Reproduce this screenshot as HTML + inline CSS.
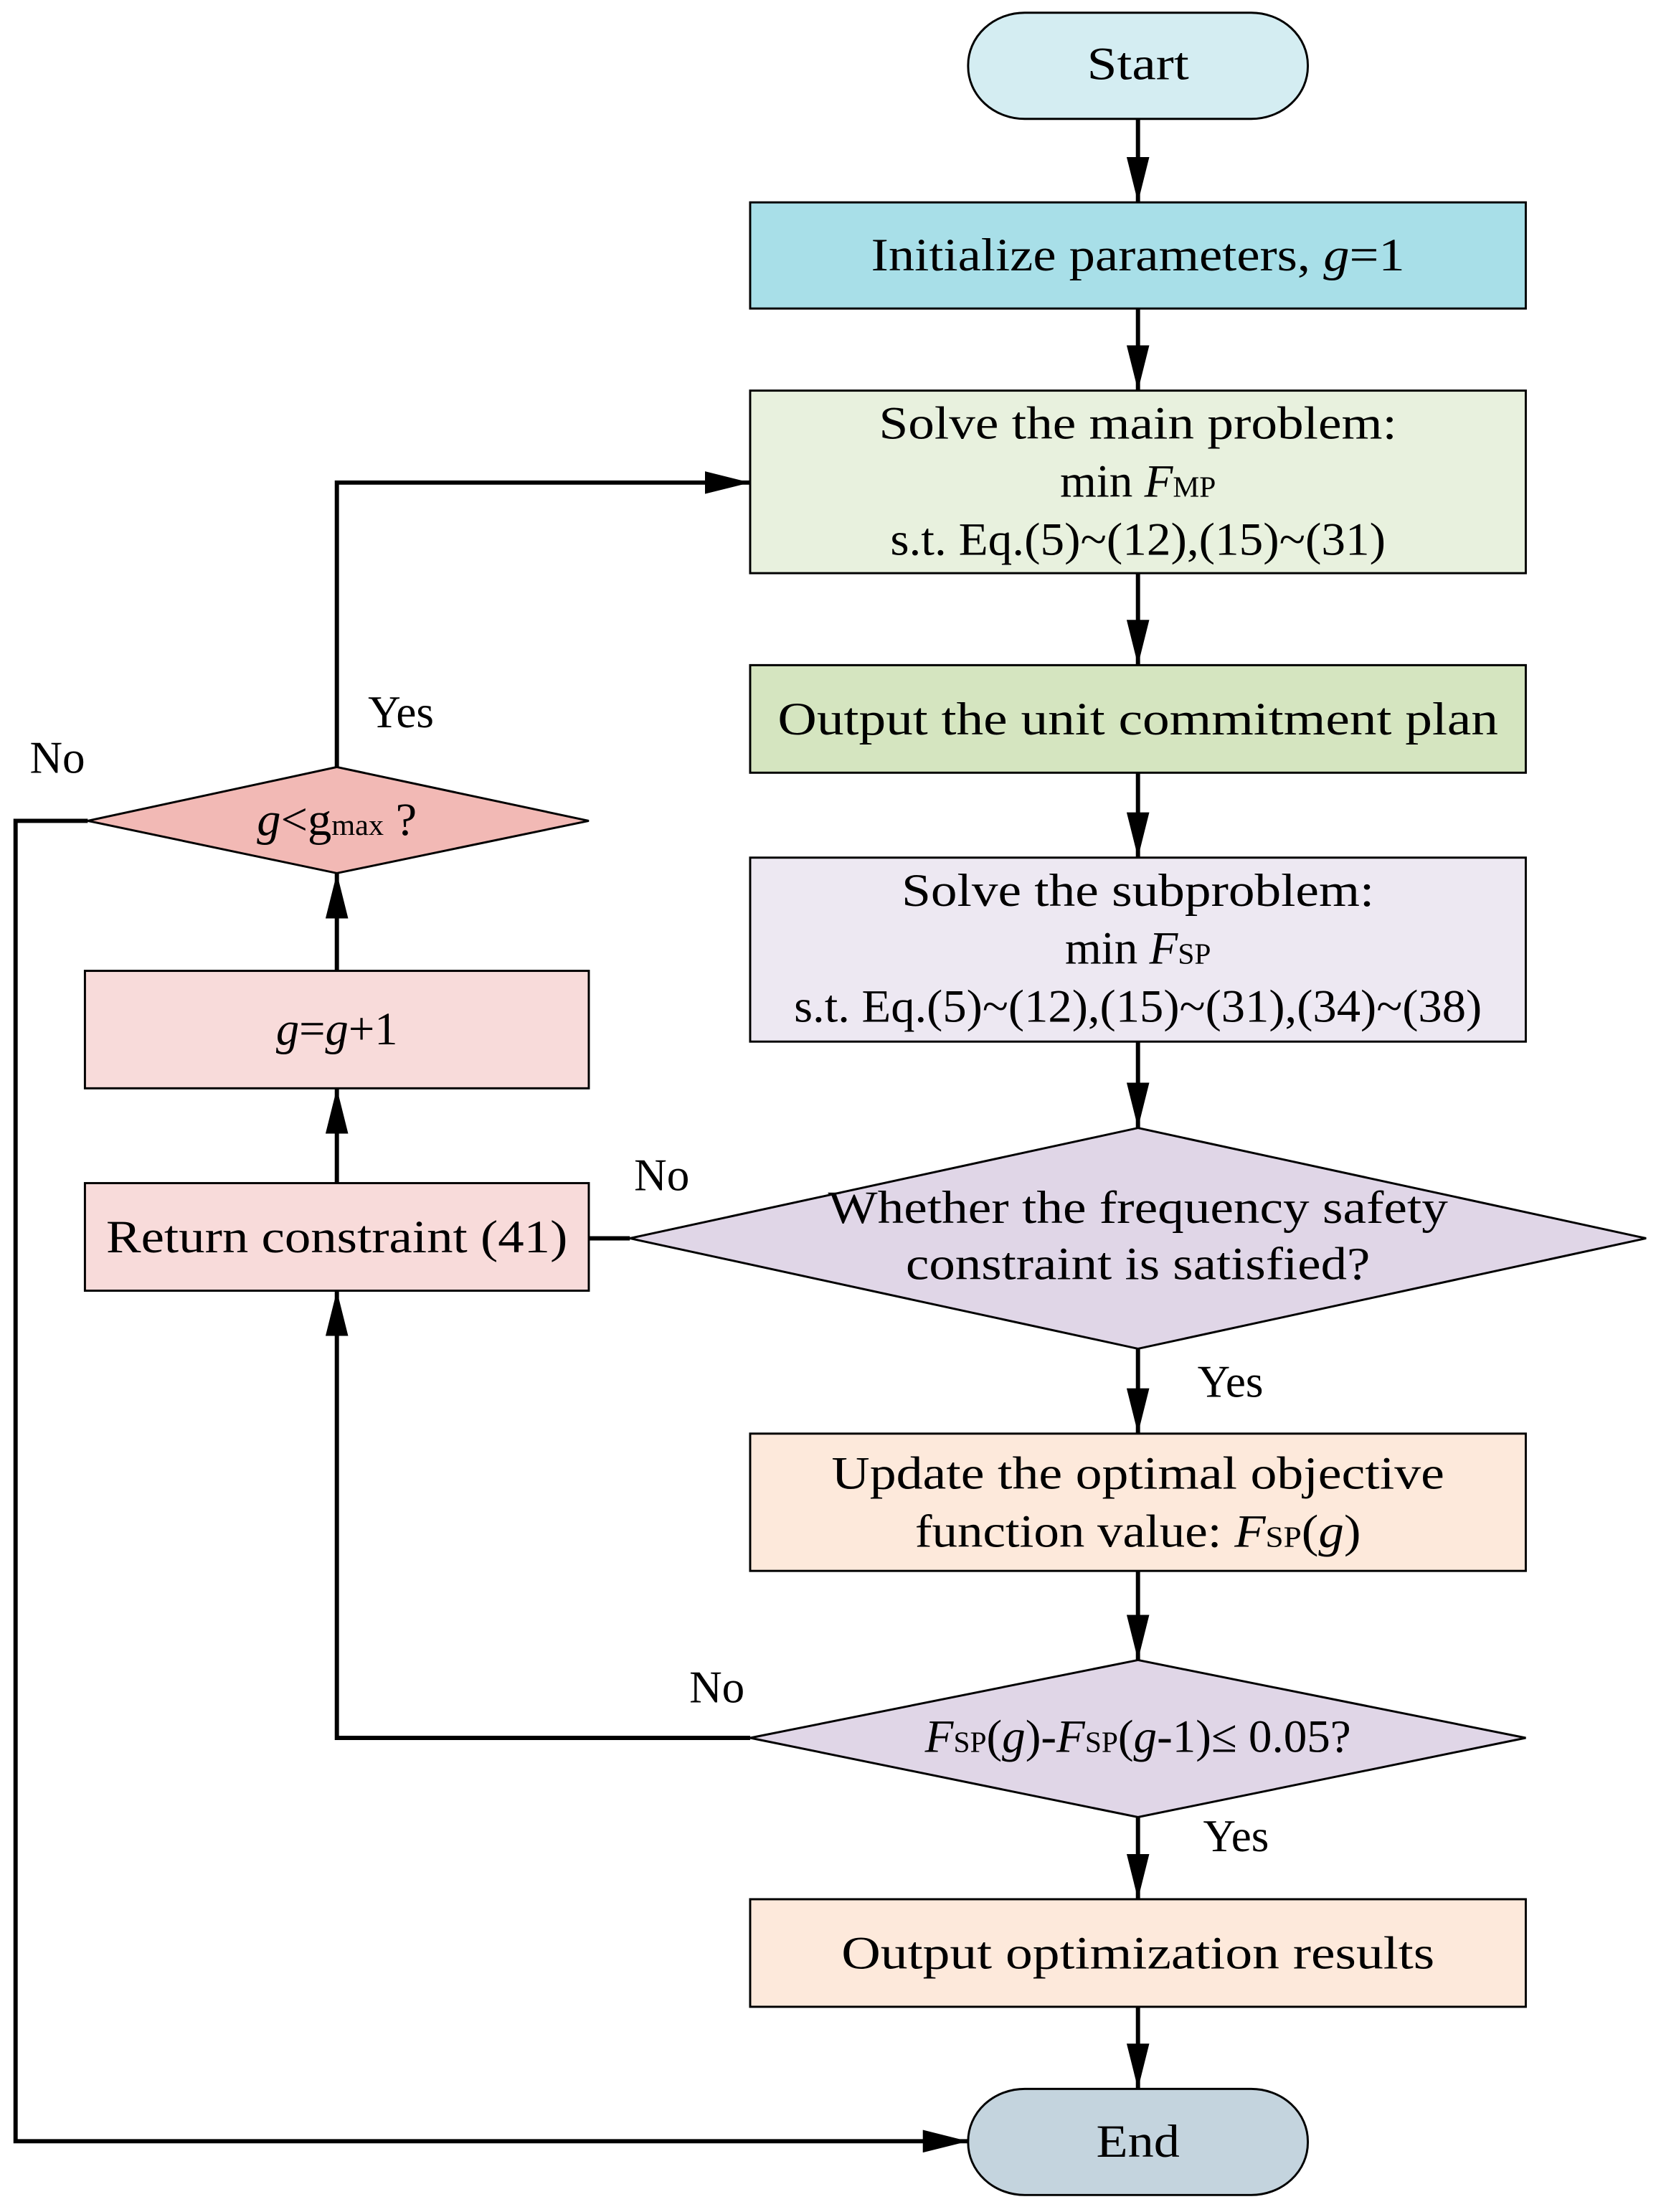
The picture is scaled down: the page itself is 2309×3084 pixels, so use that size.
<!DOCTYPE html>
<html><head><meta charset="utf-8"><style>html,body{margin:0;padding:0;background:#fff}svg{display:block}</style></head><body>
<svg width="2309" height="3084" viewBox="0 0 1170 1563" preserveAspectRatio="none" xmlns="http://www.w3.org/2000/svg" font-family="'Liberation Serif', serif" font-size="33" fill="#000">
<defs>
<marker id="b" viewBox="0 0 32 16" markerWidth="32" markerHeight="16" refX="32" refY="8" orient="auto" markerUnits="userSpaceOnUse"><path d="M0,0 L32,8 L0,16 Z"/></marker></defs>
<g stroke="#000" stroke-width="1.5">
<rect x="684" y="9" width="240" height="75" rx="40" ry="37" fill="#d4edf2"/>
<rect x="530" y="143" width="548" height="75" fill="#a8dfe8"/>
<rect x="530" y="276" width="548" height="129" fill="#e8f1de"/>
<rect x="530" y="470" width="548" height="76" fill="#d5e5c0"/>
<rect x="530" y="606" width="548" height="130" fill="#ede8f2"/>
<polygon points="804,797 1163,875 804,953 445,875" fill="#e0d6e7"/>
<rect x="530" y="1013" width="548" height="97" fill="#fde9db"/>
<polygon points="804,1173 1078,1228 804,1284 530,1228" fill="#e0d6e7"/>
<rect x="530" y="1342" width="548" height="76" fill="#fde9db"/>
<rect x="684" y="1476" width="240" height="75" rx="40" ry="37" fill="#c4d4de"/>
<polygon points="238,542 416,580 238,617 62,580" fill="#f2b9b5"/>
<rect x="60" y="686" width="356" height="83" fill="#f8dbda"/>
<rect x="60" y="836" width="356" height="76" fill="#f8dbda"/>
</g>
<g stroke="#000" stroke-width="3" fill="none">
<line x1="804" y1="84" x2="804" y2="143" marker-end="url(#b)"/>
<line x1="804" y1="218" x2="804" y2="276" marker-end="url(#b)"/>
<line x1="804" y1="405" x2="804" y2="470" marker-end="url(#b)"/>
<line x1="804" y1="546" x2="804" y2="606" marker-end="url(#b)"/>
<line x1="804" y1="736" x2="804" y2="797" marker-end="url(#b)"/>
<line x1="804" y1="953" x2="804" y2="1013" marker-end="url(#b)"/>
<line x1="804" y1="1110" x2="804" y2="1173" marker-end="url(#b)"/>
<line x1="804" y1="1284" x2="804" y2="1342" marker-end="url(#b)"/>
<line x1="804" y1="1418" x2="804" y2="1476" marker-end="url(#b)"/>
<polyline points="238,542 238,341 530,341" marker-end="url(#b)"/>
<polyline points="62,580 11,580 11,1513 684,1513" marker-end="url(#b)"/>
<line x1="445" y1="875" x2="416" y2="875"/>
<line x1="238" y1="836" x2="238" y2="769" marker-end="url(#b)"/>
<line x1="238" y1="686" x2="238" y2="617" marker-end="url(#b)"/>
<polyline points="530,1228 238,1228 238,912" marker-end="url(#b)"/>
</g>
<g text-anchor="middle">
<text x="804" y="56" textLength="72" lengthAdjust="spacingAndGlyphs">Start</text>
<text x="804" y="191" textLength="377" lengthAdjust="spacingAndGlyphs">Initialize parameters, <tspan font-style="italic">g</tspan>=1</text>
<text x="804" y="310" textLength="366" lengthAdjust="spacingAndGlyphs">Solve the main problem:</text>
<text x="804" y="351">min <tspan font-style="italic">F</tspan><tspan font-size="21">MP</tspan></text>
<text x="804" y="392" textLength="350" lengthAdjust="spacingAndGlyphs">s.t. Eq.(5)~(12),(15)~(31)</text>
<text x="804" y="519" textLength="509" lengthAdjust="spacingAndGlyphs">Output the unit commitment plan</text>
<text x="804" y="640" textLength="334" lengthAdjust="spacingAndGlyphs">Solve the subproblem:</text>
<text x="804" y="681">min <tspan font-style="italic">F</tspan><tspan font-size="21">SP</tspan></text>
<text x="804" y="722" textLength="486" lengthAdjust="spacingAndGlyphs">s.t. Eq.(5)~(12),(15)~(31),(34)~(38)</text>
<text x="804" y="864" textLength="438" lengthAdjust="spacingAndGlyphs">Whether the frequency safety</text>
<text x="804" y="904" textLength="328" lengthAdjust="spacingAndGlyphs">constraint is satisfied?</text>
<text x="804" y="1052" textLength="433" lengthAdjust="spacingAndGlyphs">Update the optimal objective</text>
<text x="804" y="1093" textLength="315" lengthAdjust="spacingAndGlyphs">function value: <tspan font-style="italic">F</tspan><tspan font-size="21">SP</tspan>(<tspan font-style="italic">g</tspan>)</text>
<text x="804" y="1238" textLength="301" lengthAdjust="spacingAndGlyphs"><tspan font-style="italic">F</tspan><tspan font-size="21">SP</tspan>(<tspan font-style="italic">g</tspan>)-<tspan font-style="italic">F</tspan><tspan font-size="21">SP</tspan>(<tspan font-style="italic">g</tspan>-1)≤ 0.05?</text>
<text x="804" y="1391" textLength="419" lengthAdjust="spacingAndGlyphs">Output optimization results</text>
<text x="804" y="1524" textLength="59" lengthAdjust="spacingAndGlyphs">End</text>
<text x="238" y="885" textLength="326" lengthAdjust="spacingAndGlyphs">Return constraint (41)</text>
<text x="238" y="738" textLength="86" lengthAdjust="spacingAndGlyphs"><tspan font-style="italic">g</tspan>=<tspan font-style="italic">g</tspan>+1</text>
<text x="238" y="590" textLength="113" lengthAdjust="spacingAndGlyphs"><tspan font-style="italic">g</tspan>&lt;g<tspan font-size="21">max</tspan> ?</text>
</g>
<g font-size="32">
<text x="260" y="514">Yes</text>
<text x="21" y="546">No</text>
<text x="448" y="841">No</text>
<text x="846" y="987">Yes</text>
<text x="487" y="1203">No</text>
<text x="850" y="1308">Yes</text>
</g>
</svg>
</body></html>
